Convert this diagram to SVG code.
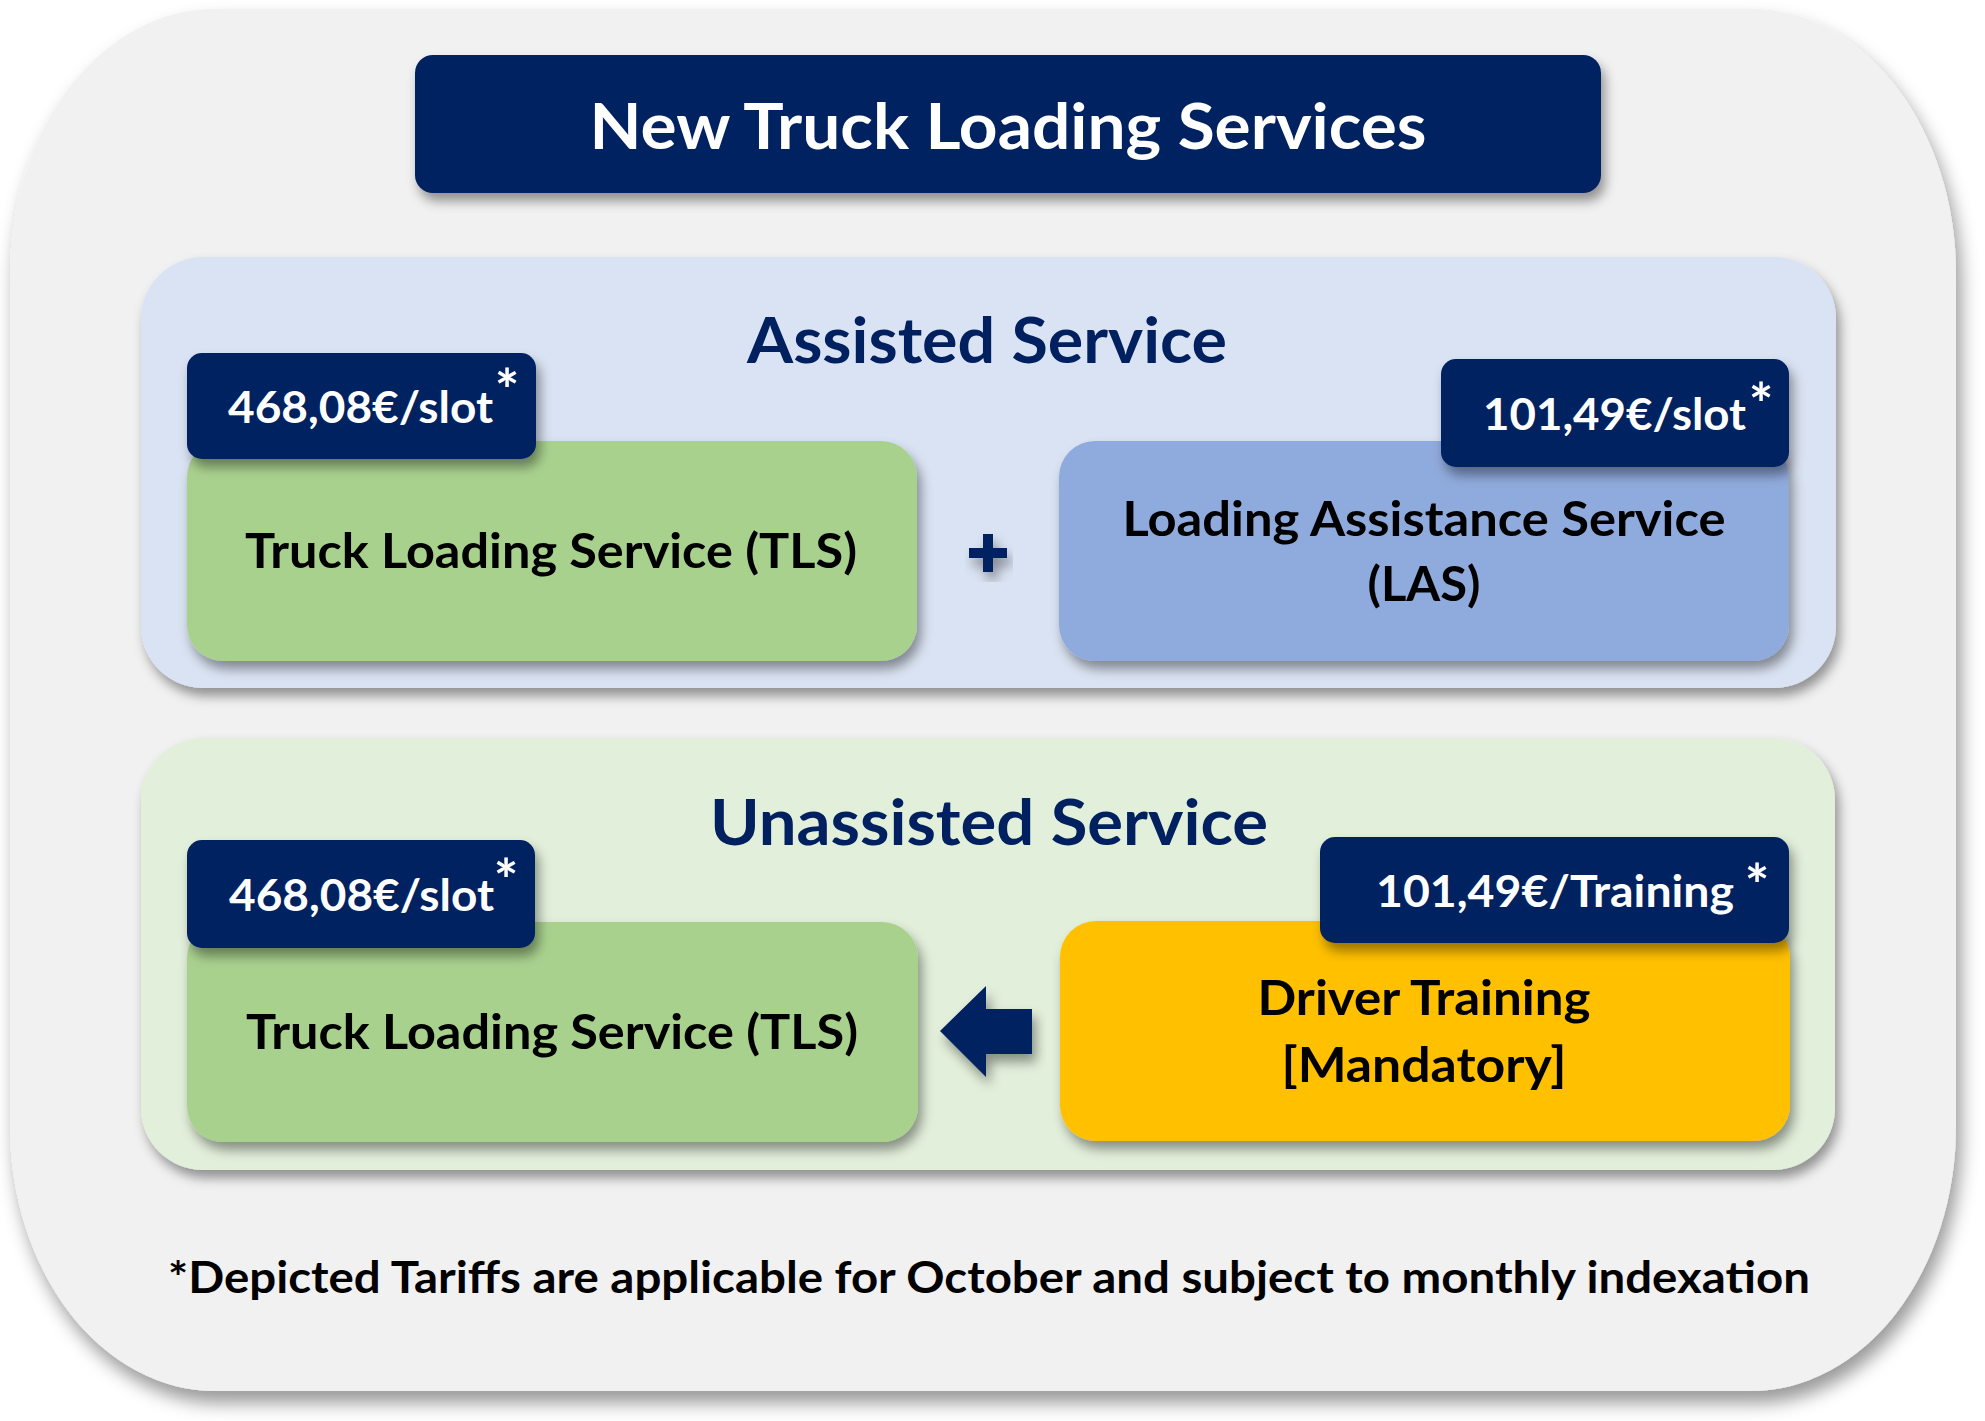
<svg xmlns="http://www.w3.org/2000/svg" width="1985" height="1421" viewBox="0 0 1985 1421">
<style>
text { font-family: Lato, "Open Sans", "Liberation Sans", sans-serif; font-weight: bold; }
.navy { fill: #002060; }
.white { fill: #ffffff; }
.black { fill: #000000; }
.title { font-size: 64px; }
.box { font-size: 48px; }
.price { font-size: 43px; }
.star { font-size: 58px; }
.foot { font-size: 43px; }
</style>
<defs>
<filter id="sh" x="-10%" y="-10%" width="125%" height="135%">
<feDropShadow dx="4" dy="8" stdDeviation="6" flood-color="#000" flood-opacity="0.4"/>
</filter>
<filter id="shBig" x="-5%" y="-5%" width="112%" height="112%">
<feDropShadow dx="5" dy="12" stdDeviation="9" flood-color="#000" flood-opacity="0.4"/>
</filter>
</defs>

<g id="background">
<rect x="10" y="9" width="1946" height="1382" rx="205" ry="265" fill="#f1f1f1" filter="url(#shBig)"/>
</g>

<g id="title">
<rect x="415" y="55" width="1186" height="138" rx="18" class="navy" filter="url(#sh)"/>
<text x="1008" y="149" class="title white" text-anchor="middle" textLength="837" lengthAdjust="spacingAndGlyphs">New Truck Loading Services</text>
</g>

<g id="assisted-panel">
<rect x="141" y="257" width="1695" height="431" rx="62" fill="#dae3f3" filter="url(#sh)"/>
<text x="987" y="363" class="title navy" text-anchor="middle" textLength="480" lengthAdjust="spacingAndGlyphs">Assisted Service</text>
</g>

<g id="tls-assisted">
<rect x="187" y="441" width="730" height="220" rx="36" fill="#a9d18e" filter="url(#sh)"/>
<text x="551" y="568" class="box black" text-anchor="middle" textLength="612" lengthAdjust="spacingAndGlyphs">Truck Loading Service (TLS)</text>
</g>

<g id="tls-assisted-price">
<rect x="187" y="353" width="349" height="106" rx="15" class="navy" filter="url(#sh)"/>
<text x="228" y="423" class="price white" textLength="265" lengthAdjust="spacingAndGlyphs">468,08€/slot</text>
<text x="507" y="411" class="star white" text-anchor="middle">*</text>
</g>

<g id="las">
<rect x="1059" y="441" width="730" height="220" rx="36" fill="#8faadc" filter="url(#sh)"/>
<text x="1424" y="536" class="box black" text-anchor="middle" textLength="603" lengthAdjust="spacingAndGlyphs">Loading Assistance Service</text>
<text x="1424" y="601" class="box black" text-anchor="middle" textLength="113" lengthAdjust="spacingAndGlyphs">(LAS)</text>
</g>

<g id="las-price">
<rect x="1441" y="359" width="348" height="108" rx="15" class="navy" filter="url(#sh)"/>
<text x="1483" y="430" class="price white" textLength="263" lengthAdjust="spacingAndGlyphs">101,49€/slot</text>
<text x="1761" y="425" class="star white" text-anchor="middle">*</text>
</g>

<g id="unassisted-panel">
<rect x="141" y="738" width="1694" height="432" rx="62" fill="#e2efda" filter="url(#sh)"/>
<text x="989" y="845" class="title navy" text-anchor="middle" textLength="558" lengthAdjust="spacingAndGlyphs">Unassisted Service</text>
</g>

<g id="tls-unassisted">
<rect x="187" y="922" width="731" height="220" rx="36" fill="#a9d18e" filter="url(#sh)"/>
<text x="552" y="1049" class="box black" text-anchor="middle" textLength="612" lengthAdjust="spacingAndGlyphs">Truck Loading Service (TLS)</text>
</g>

<g id="tls-unassisted-price">
<rect x="187" y="840" width="348" height="108" rx="15" class="navy" filter="url(#sh)"/>
<text x="229" y="911" class="price white" textLength="265" lengthAdjust="spacingAndGlyphs">468,08€/slot</text>
<text x="506" y="901" class="star white" text-anchor="middle">*</text>
</g>

<g id="driver-training">
<rect x="1060" y="921" width="730" height="220" rx="36" fill="#ffc000" filter="url(#sh)"/>
<text x="1424" y="1015" class="box black" text-anchor="middle" textLength="333" lengthAdjust="spacingAndGlyphs">Driver Training</text>
<text x="1424" y="1082" class="box black" text-anchor="middle" textLength="285" lengthAdjust="spacingAndGlyphs">[Mandatory]</text>
</g>

<g id="training-price">
<rect x="1320" y="837" width="469" height="106" rx="15" class="navy" filter="url(#sh)"/>
<text x="1376" y="907" class="price white" textLength="358" lengthAdjust="spacingAndGlyphs">101,49€/Training</text>
<text x="1757" y="906" class="star white" text-anchor="middle">*</text>
</g>

<g id="connectors">
<path d="M983,534 h10 v14 h14 v10 h-14 v14 h-10 v-14 h-14 v-10 h14 z" class="navy" filter="url(#sh)"/>
<polygon points="940,1031 986,986 986,1009 1032,1009 1032,1054 986,1054 986,1077" class="navy" filter="url(#sh)"/>
</g>

<g id="footnote">
<text x="168" y="1293" class="foot black" textLength="1642" lengthAdjust="spacingAndGlyphs">*Depicted Tariffs are applicable for October and subject to monthly indexation</text>
</g>
</svg>
